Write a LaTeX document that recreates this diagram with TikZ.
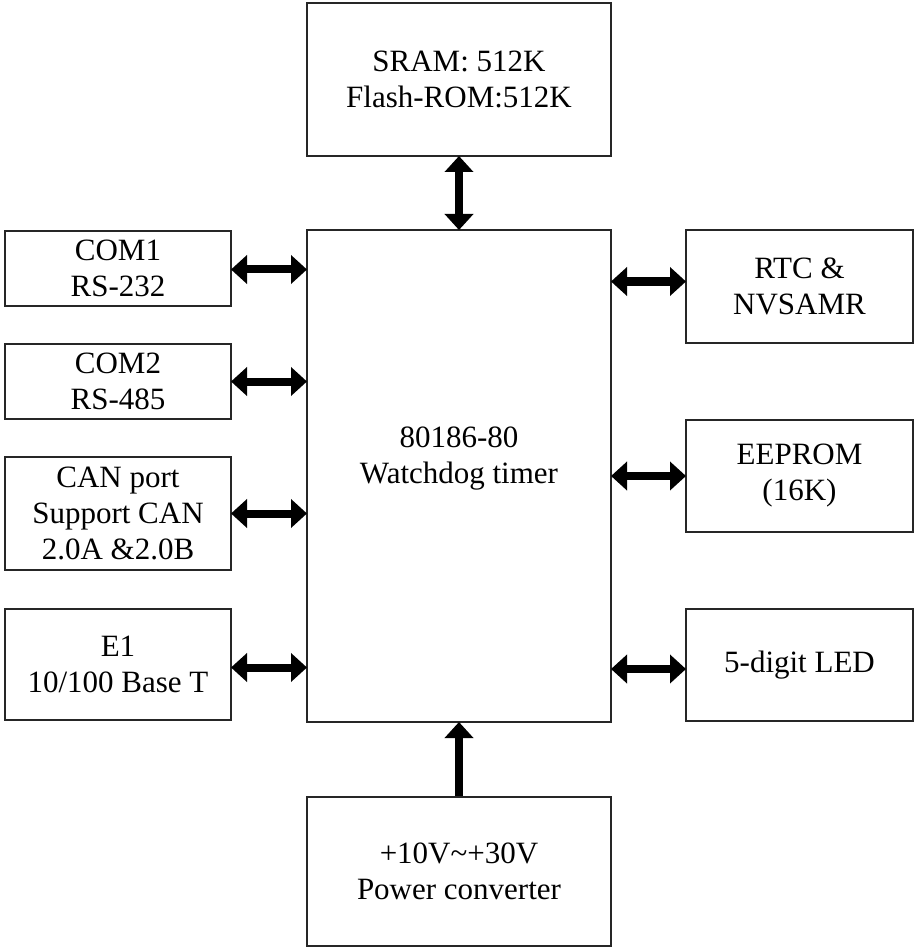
\documentclass[tikz,border=0pt]{standalone}
\usepackage{fontspec}
\setmainfont{Liberation Serif}
\usetikzlibrary{arrows.meta}
\tikzset{
  blk/.style={draw=black!85, line width=2pt, fill=white, align=center, inner sep=0pt,
    font=\fontsize{31}{36}\selectfont},
  lbl/.style={align=center, inner sep=0pt, font=\fontsize{31}{36}\selectfont},
  link/.style={line width=8pt, {Triangle[width=28pt,length=16pt]}-{Triangle[width=28pt,length=16pt]}, shorten <=-1pt, shorten >=-1pt},
  uplink/.style={line width=8pt, -{Triangle[width=28pt,length=16pt]}, shorten >=-1pt}
}
\begin{document}
\begin{tikzpicture}[x=1pt,y=-1pt]
\useasboundingbox[fill=white] (0,0) rectangle (914,949);
\node[blk, minimum width=304pt, minimum height=153pt] (sram) at (459,79.5) {SRAM: 512K\\Flash-ROM:512K};
\node[blk, minimum width=304pt, minimum height=492pt] (cpu) at (459,476) {};
\node[lbl] (cputxt) at (459,459) {80186-80\\Watchdog timer};
\node[blk, minimum width=226pt, minimum height=75pt] (com1) at (118,268.5) {COM1\\RS-232};
\node[blk, minimum width=226pt, minimum height=75pt] (com2) at (118,381.5) {COM2\\RS-485};
\node[blk, minimum width=226pt, minimum height=113pt] (can) at (118,513.5) {CAN port\\Support CAN\\2.0A \&2.0B};
\node[blk, minimum width=226pt, minimum height=111pt] (e1) at (118,664.5) {E1\\10/100 Base T};
\node[blk, minimum width=227pt, minimum height=113pt] (rtc) at (799.5,286.5) {RTC \&\\NVSAMR};
\node[blk, minimum width=227pt, minimum height=112pt] (eeprom) at (799.5,476) {EEPROM\\(16K)};
\node[blk, minimum width=227pt, minimum height=112pt] (led) at (799.5,665) {5-digit LED};
\node[blk, minimum width=304pt, minimum height=149pt] (pwr) at (459,871.5) {+10V\textasciitilde+30V\\Power converter};
\coordinate (c1) at ([yshift=-1pt]com1.east);
\coordinate (ce) at ([yshift=-3pt]e1.east);
\coordinate (cr) at ([yshift=5pt]rtc.west);
\coordinate (cl) at ([yshift=-4pt]led.west);
\draw[link] (sram.south) -- (cpu.north);
\draw[link] (c1) -- (cpu.west |- c1);
\draw[link] (com2.east) -- (cpu.west |- com2.east);
\draw[link] (can.east) -- (cpu.west |- can.east);
\draw[link] (ce) -- (cpu.west |- ce);
\draw[link] (cr) -- (cpu.east |- cr);
\draw[link] (eeprom.west) -- (cpu.east |- eeprom.west);
\draw[link] (cl) -- (cpu.east |- cl);
\draw[uplink] (pwr.north) -- (cpu.south);
\end{tikzpicture}
\end{document}
